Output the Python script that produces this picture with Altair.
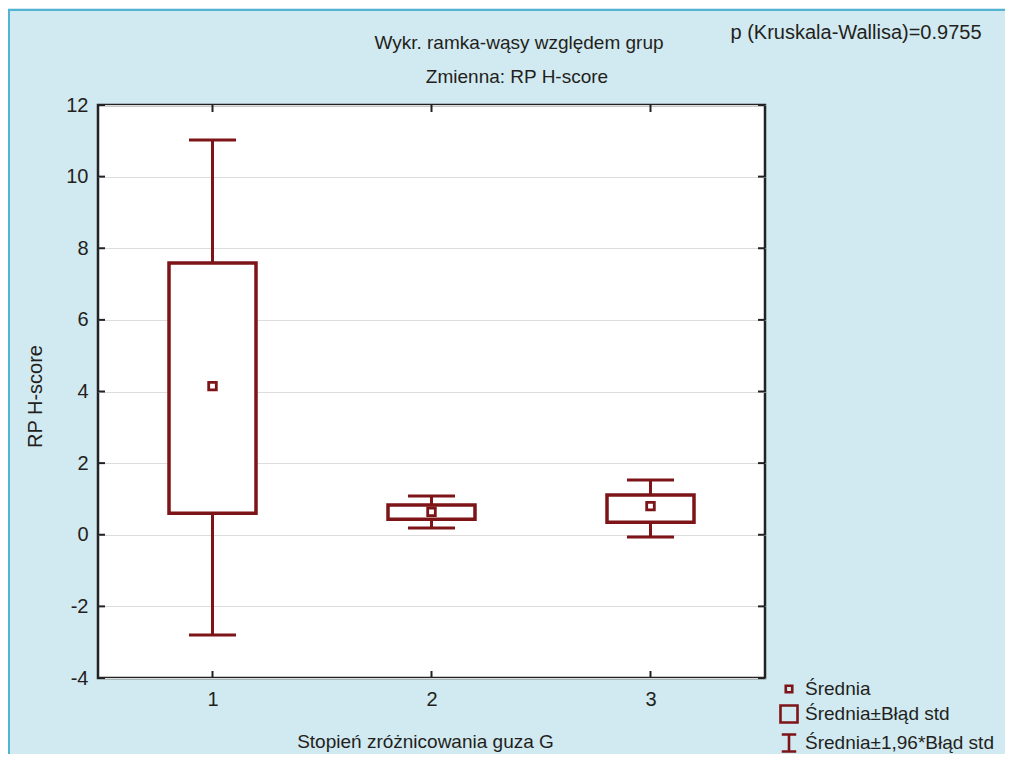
import altair as alt
import pandas as pd

# ---- data ----
groups = [1, 2, 3]
mean_vals = [4.15, 0.64, 0.80]
se_low = [0.60, 0.43, 0.35]
se_high = [7.59, 0.83, 1.11]
ci_low = [-2.80, 0.19, -0.06]
ci_high = [11.02, 1.08, 1.53]
y_ticks = [-4, -2, 0, 2, 4, 6, 8, 10, 12]
x_ticks = [1, 2, 3]
legend_labels = ["Średnia", "Średnia±Błąd std", "Średnia±1,96*Błąd std"]
title1 = "Wykr. ramka-wąsy względem grup"
title2 = "Zmienna:  RP H-score"
pvalue_text = "p (Kruskala-Wallisa)=0.9755"
x_title = "Stopień zróżnicowania guza G"
y_title = "RP H-score"

RED = "#7d1417"
TXT = "#231f20"
BG = "#d1e9f0"
FONT = "Liberation Sans"

df = pd.DataFrame({
    "g": groups, "mean": mean_vals, "se_lo": se_low, "se_hi": se_high,
    "ci_lo": ci_low, "ci_hi": ci_high,
})
dfy = pd.DataFrame({"v": y_ticks})
dfx = pd.DataFrame({"g": x_ticks})
dfl = pd.DataFrame({"label": legend_labels})

W, H = 667, 573

xscale = alt.Scale(domain=[0.5, 3.5], nice=False, zero=False)
yscale = alt.Scale(domain=[-4, 12], nice=False, zero=False)
xaxis = alt.Axis(values=x_ticks, format="d", grid=False, domain=False, ticks=False,
                 labelFontSize=20, labelPadding=11, labelColor=TXT, labelFont=FONT,
                 title=x_title, titleFontSize=19, titleFontWeight="normal",
                 titleColor=TXT, titleFont=FONT, titleX=327, titleY=63,
                 titleBaseline="middle")
yaxis = alt.Axis(values=y_ticks, grid=True, gridColor="#dcdcdc", gridWidth=1.2,
                 domain=False, ticks=False, labelFontSize=20, labelPadding=10,
                 labelExpr="datum.value + ''",
                 labelColor=TXT, labelFont=FONT, title=y_title, titleFontSize=20,
                 titleFontWeight="normal", titleColor=TXT, titleFont=FONT,
                 titleX=-63, titleY=291, titleBaseline="middle", titleAngle=270)

X = alt.X("g:Q", scale=xscale, axis=xaxis)

# inward ticks on the four sides
left_ticks = alt.Chart(dfy).mark_rule(color="#222", strokeWidth=2).encode(
    y=alt.Y("v:Q", scale=yscale, axis=yaxis), x=alt.value(0), x2=alt.value(7))
right_ticks = alt.Chart(dfy).mark_rule(color="#222", strokeWidth=2).encode(
    y=alt.Y("v:Q", scale=yscale, axis=yaxis), x=alt.value(W - 7), x2=alt.value(W))
top_ticks = alt.Chart(dfx).mark_rule(color="#222", strokeWidth=2).encode(
    x=X, y=alt.value(0), y2=alt.value(7))
bottom_ticks = alt.Chart(dfx).mark_rule(color="#222", strokeWidth=2).encode(
    x=X, y=alt.value(H - 7), y2=alt.value(H))

whisk = alt.Chart(df).mark_rule(color=RED, strokeWidth=3).encode(
    x=X, y=alt.Y("ci_lo:Q", scale=yscale, axis=yaxis), y2="ci_hi:Q")
box = alt.Chart(df).mark_bar(size=87, fill="white", stroke=RED, strokeWidth=3.5).encode(
    x=X, y=alt.Y("se_lo:Q", scale=yscale, axis=yaxis), y2="se_hi:Q")
cap_hi = alt.Chart(df).mark_tick(orient="horizontal", size=47, thickness=3, color=RED,
                                 opacity=1).encode(
    x=X, y=alt.Y("ci_hi:Q", scale=yscale, axis=yaxis))
cap_lo = alt.Chart(df).mark_tick(orient="horizontal", size=47, thickness=3, color=RED,
                                 opacity=1).encode(
    x=X, y=alt.Y("ci_lo:Q", scale=yscale, axis=yaxis))
mean_pt = alt.Chart(df).mark_point(shape="square", filled=False, size=58, strokeWidth=2.8,
                                   color=RED, opacity=1).encode(
    x=X, y=alt.Y("mean:Q", scale=yscale, axis=yaxis))

legend_layer = alt.Chart(dfl).mark_point(opacity=0, color=RED, filled=False).encode(
    x=alt.value(0), y=alt.value(0),
    shape=alt.Shape("label:N", sort=legend_labels,
                    scale=alt.Scale(domain=legend_labels, range=[
                        "M-0.38,-0.38H0.38V0.38H-0.38Z",
                        "M-1,-1H1V1H-1Z",
                        "M-0.85,-1H0.85M0,-1V1M-0.85,1H0.85",
                    ]),
                    legend=alt.Legend(title=None, orient="none", legendX=681, legendY=574,
                                      symbolSize=290, symbolStrokeWidth=2.6,
                                      symbolStrokeColor=RED, symbolFillColor="transparent",
                                      symbolOpacity=1, labelFontSize=19, labelFont=FONT,
                                      labelColor=TXT, labelLimit=400, rowPadding=1,
                                      labelOffset=6, padding=0)))

def txt(s, x, y, size=19, align="center"):
    return alt.Chart(pd.DataFrame({"t": [s]})).mark_text(
        fontSize=size, font=FONT, color=TXT, align=align, baseline="middle").encode(
        x=alt.value(x), y=alt.value(y), text="t:N")

t1 = txt(title1, 421, -62, 19)
t2 = txt(title2, 419, -28, 19)
tp = txt(pvalue_text, 758, -72, 20)

frame_left = alt.Chart(dfx).mark_rule(color="#53b3d2", strokeWidth=2).encode(
    x=alt.value(-89), y=alt.value(-95), y2=alt.value(H + 90))
frame_top = alt.Chart(dfx).mark_rule(color="#53b3d2", strokeWidth=2).encode(
    y=alt.value(-95), x=alt.value(-90), x2=alt.value(W + 250))

chart = alt.layer(
    whisk, box, cap_hi, cap_lo, mean_pt,
    left_ticks, right_ticks, top_ticks, bottom_ticks,
    legend_layer, t1, t2, tp, frame_left, frame_top,
).properties(
    width=W, height=H,
    autosize=alt.AutoSizeParams(type="none"),
    padding={"left": 90, "top": 97, "right": 240, "bottom": 76},
    background=BG,
).configure_view(stroke="#222", strokeWidth=2.5, fill="white")

chart.save("out.html", embed_options={"renderer": "svg", "actions": False})
